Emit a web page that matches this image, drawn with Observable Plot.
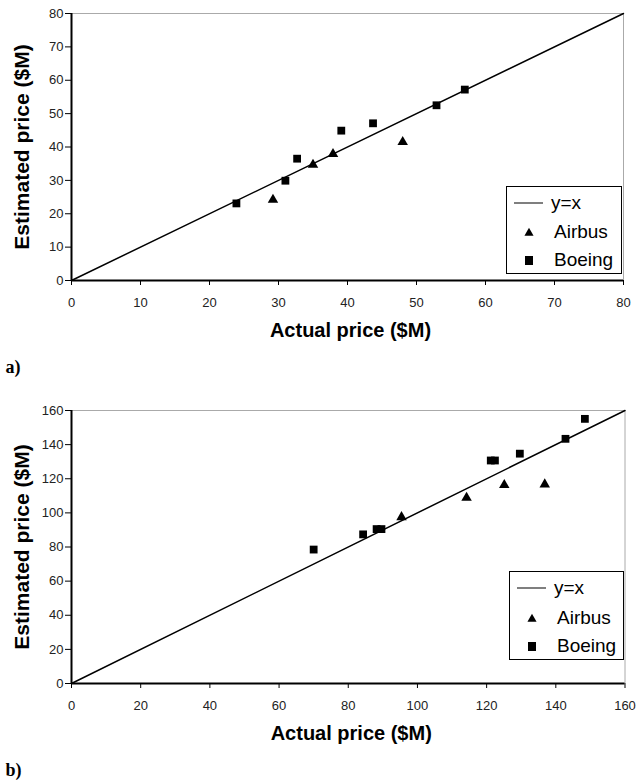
<!DOCTYPE html>
<html>
<head>
<meta charset="utf-8">
<script src="https://cdn.jsdelivr.net/npm/d3@7"></script>
<script src="https://cdn.jsdelivr.net/npm/@observablehq/plot@0.6"></script>
<style>
  body { margin: 0; background: #fff; }
  #wrap { position: relative; width: 639px; height: 783px; background: #fff; font-family: "Liberation Sans", Arial, sans-serif; }
  .panel { position: absolute; left: 0; background: transparent !important; }
  .legend { position: absolute; border: 1.5px solid #000; background: #fff; box-sizing: border-box; }
  .legend .row { position: absolute; left: 0; height: 24px; display: flex; align-items: center; font-size: 19px; color: #000; }
  .legend svg { position: absolute; }
</style>
</head>
<body>
<div id="wrap"></div>
<script>
// ---- Panel a) data ----
const xTicksA = [0, 10, 20, 30, 40, 50, 60, 70, 80];
const yTicksA = [0, 10, 20, 30, 40, 50, 60, 70, 80];
const airbusAActual = [29.2, 35.0, 37.9, 48.0];
const airbusAEstimated = [24.2, 34.7, 37.9, 41.5];
const boeingAActual = [23.9, 31.0, 32.7, 39.1, 43.7, 52.9, 57.0];
const boeingAEstimated = [23.1, 29.9, 36.5, 44.9, 47.1, 52.5, 57.2];

// ---- Panel b) data ----
const xTicksB = [0, 20, 40, 60, 80, 100, 120, 140, 160];
const yTicksB = [0, 20, 40, 60, 80, 100, 120, 140, 160];
const airbusBActual = [95.4, 114.2, 125.1, 136.8];
const airbusBEstimated = [97.5, 108.9, 116.3, 116.7];
const boeingBActual = [70.0, 84.3, 88.2, 89.6, 121.2, 122.4, 129.6, 142.8, 148.4];
const boeingBEstimated = [78.5, 87.4, 90.5, 90.5, 130.7, 130.7, 134.7, 143.4, 155.1];

const legendLabels = ["y=x", "Airbus", "Boeing"];
const xLabel = "Actual price ($M)";
const yLabel = "Estimated price ($M)";
const panelLabels = ["a)", "b)"];

const FONT = '"Liberation Sans", Arial, sans-serif';

function zip(xs, ys) { return xs.map((x, i) => ({x, y: ys[i]})); }

function makePanel({xTicks, yTicks, airbus, boeing, label, height, mt, mb, ml, mr}) {
  const max = xTicks[xTicks.length - 1];
  const ymax = yTicks[yTicks.length - 1];
  const identity = [{x: 0, y: 0}, {x: max, y: max}];
  return Plot.plot({
    width: 639,
    height,
    marginTop: mt,
    marginBottom: mb,
    marginLeft: ml,
    marginRight: mr,
    style: {fontFamily: FONT, background: "transparent", overflow: "visible"},
    x: {domain: [0, max]},
    y: {domain: [0, ymax]},
    marks: [
      Plot.ruleY([ymax], {stroke: "#aaa", strokeWidth: 1}),
      Plot.ruleX([max], {stroke: "#aaa", strokeWidth: 1}),
      Plot.line(identity, {x: "x", y: "y", stroke: "#000", strokeWidth: 1.5}),
      Plot.dot(airbus, {x: "x", y: "y", symbol: "triangle2", r: 5, fill: "#000", stroke: "none"}),
      Plot.dot(boeing, {x: "x", y: "y", symbol: "square", r: 4.4, fill: "#000", stroke: "none"}),
      Plot.ruleX([0], {stroke: "#000", strokeWidth: 2}),
      Plot.ruleY([0], {stroke: "#000", strokeWidth: 2}),
      Plot.axisX({ticks: xTicks, tickSize: 5, tickPadding: 12, fontSize: 13, label: null, stroke: "#000", fill: "#222", tickFormat: d => String(d)}),
      Plot.axisY({ticks: yTicks, tickSize: 6, tickPadding: 2, fontSize: 13, label: null, stroke: "#000", fill: "#222", tickFormat: d => String(d)}),
      Plot.text([xLabel], {frameAnchor: "bottom", dy: 50, dx: 3, textAnchor: "middle", lineAnchor: "middle", fontSize: 20, fontWeight: "bold", fill: "#000"}),
      Plot.text([yLabel], {frameAnchor: "left", dx: -49, rotate: -90, textAnchor: "middle", lineAnchor: "middle", fontSize: 21, fontWeight: "bold", fill: "#000"}),
      Plot.text([label], {frameAnchor: "bottom-left", dx: -66, dy: 87, textAnchor: "start", lineAnchor: "middle", fontSize: 18, fontWeight: "bold", fontFamily: '"Liberation Serif", "Times New Roman", serif', fill: "#000"})
    ]
  });
}

function makeLegend({left, top, width, height, rows}) {
  const box = document.createElement("div");
  box.className = "legend";
  Object.assign(box.style, {left: left + "px", top: top + "px", width: width + "px", height: height + "px"});
  legendLabels.forEach((lab, i) => {
    const cy = rows[i];
    const sw = d3.create("svg").attr("width", 40).attr("height", 24).style("left", "4px").style("top", (cy - 12) + "px");
    if (i === 0) sw.append("line").attr("x1", 3).attr("x2", 32).attr("y1", 12).attr("y2", 12).attr("stroke", "#555").attr("stroke-width", 1.5);
    else if (i === 1) sw.append("path").attr("d", d3.symbol(d3.symbolTriangle, 36)()).attr("transform", "translate(18,13)").attr("fill", "#000");
    else sw.append("rect").attr("x", 14).attr("y", 8).attr("width", 8).attr("height", 9).attr("fill", "#000");
    box.appendChild(sw.node());
    const t = document.createElement("div");
    t.className = "row";
    t.style.left = (i === 0 ? 44 : 47) + "px";
    t.style.top = (cy - 12) + "px";
    t.textContent = lab;
    box.appendChild(t);
  });
  return box;
}

const wrap = document.getElementById("wrap");

const pa = makePanel({
  xTicks: xTicksA, yTicks: yTicksA,
  airbus: zip(airbusAActual, airbusAEstimated),
  boeing: zip(boeingAActual, boeingAEstimated),
  label: panelLabels[0], height: 390, mt: 13, mb: 110, ml: 71, mr: 16
});
pa.classList.add("panel");
pa.style.top = "0px";
wrap.appendChild(pa);

const pb = makePanel({
  xTicks: xTicksB, yTicks: yTicksB,
  airbus: zip(airbusBActual, airbusBEstimated),
  boeing: zip(boeingBActual, boeingBEstimated),
  label: panelLabels[1], height: 393, mt: 20, mb: 100, ml: 71, mr: 14.5
});
pb.classList.add("panel");
pb.style.top = "390px";
wrap.appendChild(pb);

wrap.appendChild(makeLegend({left: 506, top: 186, width: 116, height: 88, rows: [16, 45, 73]}));
wrap.appendChild(makeLegend({left: 509, top: 571, width: 115, height: 89, rows: [16, 46, 74]}));
</script>
</body>
</html>
